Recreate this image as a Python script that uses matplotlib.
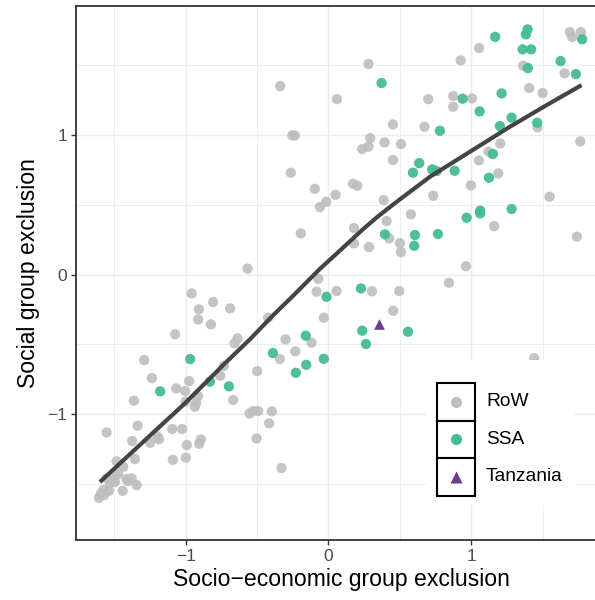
import matplotlib
matplotlib.use("Agg")
import matplotlib.pyplot as plt
from matplotlib.patches import Rectangle
from matplotlib.lines import Line2D

plt.rcParams['font.family'] = ['Liberation Sans', 'DejaVu Sans']

# ---- data ----
row_x = [-0.338, 0.06, -0.253, -0.235, -0.263, -0.095, 0.05, -0.015, -0.06, -0.193, -0.566, -0.071,
         1.691, 1.768, 1.707, 1.056, 0.281, 0.926, 1.364, 1.654, 1.406, 1.5, 0.699, 0.874, 1.005, 0.874,
         0.452, 0.673, 1.465, 0.293, 0.281, 0.237, 0.393, 0.508, 1.764, 0.452, 1.203, 1.122, 1.054, 1.189,
         0.172, 0.202, 0.998, 0.734, 1.549, 0.387, 0.407, 0.578, 0.179, 0.179, 0.284, 0.426, 0.501, 0.508,
         1.161, 1.740, 0.963, 0.844,
         -0.083, -0.032, -0.958, -0.907, -0.807, -0.688, -0.912, -0.823, -0.422, -1.073, -0.636, -0.657,
         -0.300, -0.118, -0.232, -0.340, -1.290, -1.236, -0.499, -0.758, -0.732, -0.975, -1.066, -1.003,
         -0.912, -1.000, -0.926, -0.935, -1.362, -0.667, -0.552, -0.527, -0.492, -0.396, -0.415, -0.503,
         -0.328, -1.336, -1.553, -1.374, -1.196, -1.187, -1.248, -1.094, -1.024, -0.991, -0.893, -0.905,
         -1.089, -0.998, -1.355, -1.483, -1.437,
         -1.553, -1.500, -1.472, -1.530, -1.495, -1.413, -1.378, -1.406, -1.343, -1.441, -1.577, -1.537,
         -1.593, -1.607, -1.570,
         0.057, 0.305, 0.496, 0.454, 1.441]
row_y = [1.349, 1.256, 0.996, 0.996, 0.729, 0.614, 0.571, 0.521, 0.483, 0.295, 0.042, -0.03,
         1.736, 1.736, 1.700, 1.621, 1.507, 1.533, 1.495, 1.440, 1.335, 1.299, 1.256, 1.278, 1.261, 1.201,
         1.075, 1.058, 1.054, 0.977, 0.915, 0.898, 0.946, 0.934, 0.953, 0.820, 0.939, 0.879, 0.817, 0.724,
         0.650, 0.636, 0.638, 0.564, 0.557, 0.533, 0.383, 0.431, 0.333, 0.223, 0.197, 0.259, 0.225, 0.161,
         0.347, 0.271, 0.059, -0.059,
         -0.123, -0.309, -0.135, -0.249, -0.197, -0.242, -0.321, -0.357, -0.309, -0.428, -0.457, -0.493,
         -0.464, -0.488, -0.550, -0.605, -0.612, -0.741, -0.691, -0.724, -0.653, -0.762, -0.815, -0.834,
         -0.870, -0.910, -0.918, -0.946, -0.903, -0.898, -0.994, -0.977, -0.977, -0.979, -1.065, -1.173,
         -1.385, -1.082, -1.130, -1.192, -1.161, -1.178, -1.204, -1.106, -1.106, -1.220, -1.180, -1.211,
         -1.326, -1.311, -1.321, -1.337, -1.376,
         -1.459, -1.452, -1.428, -1.495, -1.485, -1.464, -1.459, -1.478, -1.507, -1.548, -1.543, -1.548,
         -1.571, -1.598, -1.578,
         -0.118, -0.120, -0.118, -0.259, -0.598]

ssa_x = [1.395, 1.383, 1.168, 1.777, 1.360, 1.420, 1.626, 1.397, 1.733, 0.372, 1.213, 0.940, 1.059,
         1.283, 1.201, 1.462, 0.781, 1.152, 0.636, 0.592, 0.727, 0.758, 0.884, 1.124, 1.283, 0.968,
         1.063, 1.063, 0.396, 0.606, 0.767, 0.601, -0.013, -0.158, -0.032, -0.389, -0.155, -0.228,
         -0.968, -0.830, -0.697, -1.178, 0.228, 0.237, 0.263, 0.557]
ssa_y = [1.755, 1.719, 1.702, 1.684, 1.612, 1.612, 1.528, 1.478, 1.435, 1.371, 1.297, 1.259, 1.168,
         1.123, 1.063, 1.087, 1.029, 0.863, 0.798, 0.729, 0.753, 0.741, 0.743, 0.693, 0.469, 0.407,
         0.457, 0.438, 0.288, 0.283, 0.290, 0.206, -0.159, -0.438, -0.603, -0.562, -0.646, -0.703,
         -0.605, -0.767, -0.800, -0.836, -0.099, -0.402, -0.497, -0.409]

tza_x = [0.358]
tza_y = [-0.357]

smooth_x = [-1.600, -1.308, -1.005, -0.725, -0.548, -0.386, -0.250, -0.153, -0.060, 0.081, 0.244,
            0.349, 0.477, 0.711, 0.991, 1.271, 1.528, 1.773]
smooth_y = [-1.485, -1.208, -0.922, -0.636, -0.462, -0.290, -0.155, -0.055, 0.040, 0.172, 0.326,
            0.418, 0.520, 0.700, 0.879, 1.058, 1.213, 1.356]

groups = ["RoW", "SSA", "Tanzania"]
xticks = [-1, 0, 1]
yticks = [-1, 0, 1]
xlabel = "Socio\u2212economic group exclusion"
ylabel = "Social group exclusion"

c_row = "#BEBEBE"
c_ssa = "#45BD8E"
c_tza = "#6A3D8E"

W, H = 595, 600
fig = plt.figure(figsize=(W / 100, H / 100), dpi=100)
ax = fig.add_axes([76 / W, (H - 540) / H, (606 - 76) / W, (540 - 5.5) / H])
ax.set_xlim(-1.7675, 1.944)
ax.set_ylim(-1.900, 1.926)

ax.set_xticks(xticks)
ax.set_yticks(yticks)
ax.set_xticks([-1.5, -0.5, 0.5, 1.5], minor=True)
ax.set_yticks([-1.5, -0.5, 0.5, 1.5], minor=True)
ax.grid(True, which='major', color='#EBEBEB', lw=1.0, zorder=0)
ax.grid(True, which='minor', color='#EBEBEB', lw=0.6, zorder=0)
ax.set_axisbelow(True)
ax.tick_params(which='minor', length=0)
ax.tick_params(which='major', length=3.5, width=1.0, color='#333333',
               labelcolor='#4D4D4D', labelsize=12.5, pad=3)

ms = 55
ax.scatter(row_x, row_y, s=ms, c=c_row, alpha=0.9, edgecolors='none', zorder=2)
ax.scatter(ssa_x, ssa_y, s=ms, c=c_ssa, alpha=0.95, edgecolors='none', zorder=3)
ax.scatter(tza_x, tza_y, s=60, c=c_tza, marker='^', edgecolors='none', zorder=4)
ax.plot(smooth_x, smooth_y, color='#444444', lw=3.0, solid_capstyle='butt',
        solid_joinstyle='round', zorder=5)

for side in ['left', 'top', 'bottom', 'right']:
    ax.spines[side].set_color('#333333')
    ax.spines[side].set_linewidth(1.3)

ax.set_xlabel(xlabel, fontsize=16.6, color='black', labelpad=3)
ax.set_ylabel(ylabel, fontsize=16.6, color='black', labelpad=5)

# ---- legend drawn manually ----
def fx(px):
    return px / W

def fy(py):
    return 1 - py / H

fig.patches.append(Rectangle((fx(426), fy(505)), fx(575) - fx(426), fy(360) - fy(505),
                             transform=fig.transFigure, facecolor='white', edgecolor='none', zorder=10))
key_top = 383
key_h = 37.5
colors = [c_row, c_ssa, c_tza]
markers = ['o', 'o', '^']
for i, (g, c, m) in enumerate(zip(groups, colors, markers)):
    top = key_top + i * key_h
    fig.patches.append(Rectangle((fx(437), fy(top + key_h)), fx(475) - fx(437), fy(top) - fy(top + key_h),
                                 transform=fig.transFigure, facecolor='white', edgecolor='black',
                                 lw=1.5, zorder=11))
    cy = fy(top + key_h / 2)
    fig.lines.append(Line2D([fx(456)], [cy], transform=fig.transFigure, marker=m, ms=8,
                            color=c, markeredgecolor='none', linestyle='none', zorder=12))
    fig.text(fx(486), cy, g, fontsize=13.8, color='black', va='center', ha='left', zorder=12)

fig.savefig("out.png", dpi=100)
